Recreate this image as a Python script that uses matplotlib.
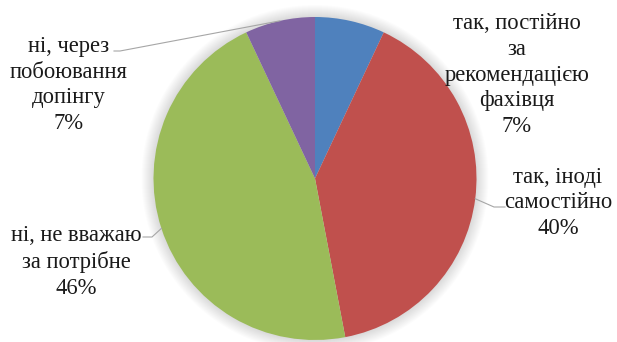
import numpy as np
import matplotlib.pyplot as plt
from matplotlib.patches import Circle

labels = ["так, постійно\nза\nрекомендацією\nфахівця",
          "так, іноді\nсамостійно",
          "ні, не вважаю\nза потрібне",
          "ні, через\nпобоювання\nдопінгу"]
shares = [7, 40, 46, 7]
colors = ["#4F81BD", "#C0504D", "#9BBB59", "#8064A2"]

W, H = 617, 342
fig = plt.figure(figsize=(W / 100, H / 100), dpi=100)
ax = fig.add_axes([0, 0, 1, 1])

cx, cy, r = 315, H - 178.5, 161.5

# soft glow round the pie
for i in range(12, 0, -1):
    ax.add_patch(Circle((cx, cy), r + i, facecolor="#000000",
                        alpha=0.013, edgecolor="none", zorder=1))

wedges, _ = ax.pie(shares, colors=colors, startangle=90, counterclock=False,
                   radius=r, center=(cx, cy), frame=True,
                   wedgeprops=dict(linewidth=0, zorder=2))
ax.set_xlim(0, W)
ax.set_ylim(0, H)
ax.axis("off")

font = dict(family="Liberation Serif", fontsize=16.3, color="#1a1a1a",
            ha="center", va="center", linespacing=1.3)

def edge_point(w):
    ang = np.deg2rad((w.theta1 + w.theta2) / 2)
    return cx + r * np.cos(ang), cy + r * np.sin(ang)

# text centre positions (in pixels from top) for each label block
text_pos = [(517, 75), (558, 203), (76, 262), (69, 85)]
for lab, val, (tx, ty) in zip(labels, shares, text_pos):
    ax.text(tx, H - ty, f"{lab}\n{val}%", **font)

# leader lines
ex, ey = edge_point(wedges[1])
ax.plot([ex, 494, 505], [ey, H - 207, H - 207], color="#A6A6A6", lw=0.8, zorder=3)
ex, ey = edge_point(wedges[2])
ax.plot([ex, 152, 143], [ey, H - 237, H - 237], color="#A6A6A6", lw=0.8, zorder=3)
ex, ey = edge_point(wedges[3])
ax.plot([ex, 120, 114], [ey, H - 51, H - 51], color="#A6A6A6", lw=0.8, zorder=3)

fig.savefig("out.png", dpi=100)
